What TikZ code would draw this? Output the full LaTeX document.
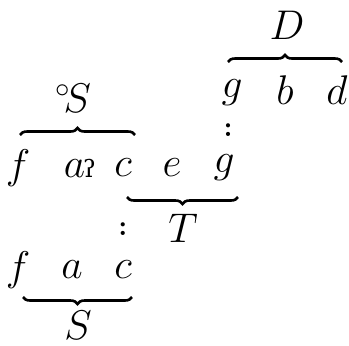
\documentclass[tikz,border=0pt]{standalone}
\usepackage{fontspec}
\usetikzlibrary{decorations.pathreplacing}
\newfontfamily\ipafont{DejaVu Serif}

\begin{document}
\begin{tikzpicture}[
  x=0.5pt, y=-0.5pt,
  tone/.style={font=\huge, inner sep=1pt},
  label/.style={font=\huge, inner sep=1pt},
  sep/.style={font=\Large\boldmath, inner sep=0pt},
  bracetop/.style={decorate, decoration={brace, amplitude=3.5pt}, line width=1.3pt},
  bracebot/.style={decorate, decoration={brace, amplitude=3.5pt, mirror}, line width=1.3pt}
]
\useasboundingbox (0,0) rectangle (349,345);

% dominant
\node[label] (D) at (287,25) {$D$};
\node[tone] (g1) at (232,93) {$g$};
\node[tone] (b1) at (285,90) {$b$};
\node[tone] (d1) at (337,90) {$d$};
\node[sep] (col1) at (228,130) {$:$};

% minor subdominant and tonic row
\node[label] (oS) at (73,98) {${}^\circ\!S$};
\node[tone] (f2) at (18,168) {$f$};
\node[tone] (a2) at (80,168) {$a$\kern-1pt{\ipafont\large ʔ}};
\node[tone] (c2) at (123,168) {$c$};
\node[tone] (e2) at (172,168) {$e$};
\node[tone] (g2) at (224,168) {$g$};
\node[label] (T) at (183,228) {$T$};
\node[sep] (col2) at (123,229) {$:$};

% major subdominant
\node[tone] (f3) at (18,270) {$f$};
\node[tone] (a3) at (72,270) {$a$};
\node[tone] (c3) at (123,270) {$c$};
\node[label] (S) at (78,325) {$S$};

\draw[bracetop] ([shift={(-4,-31)}]g1.center) -- ([shift={(5,-28)}]d1.center);
\draw[bracetop] ([shift={(2,-33)}]f2.center) -- ([shift={(12,-33)}]c2.center);
\draw[bracebot] ([shift={(4,29)}]c2.center) -- ([shift={(14,29)}]g2.center);
\draw[bracebot] ([shift={(5,27)}]f3.center) -- ([shift={(9,27)}]c3.center);
\end{tikzpicture}
\end{document}
